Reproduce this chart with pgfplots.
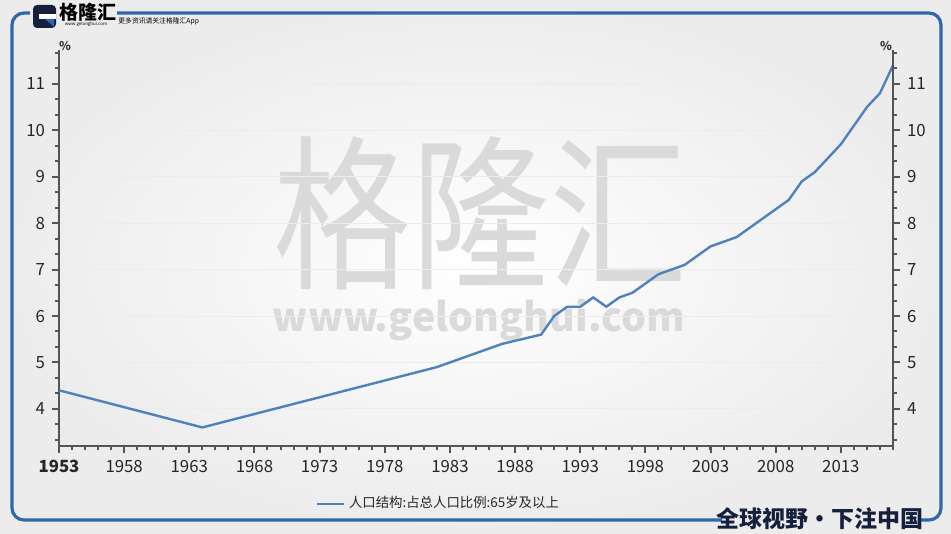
\documentclass[border=0pt]{standalone}
\usepackage{fontspec}
\setmainfont{Noto Sans CJK SC}
\usepackage{pgfplots}
\pgfplotsset{compat=1.18}
\definecolor{frameblue}{RGB}{46,104,170}
\definecolor{lineblue}{RGB}{79,129,189}
\definecolor{axisgray}{RGB}{85,85,85}
\definecolor{wm}{RGB}{218,218,218}
\definecolor{navy}{RGB}{22,32,60}

\pgfplotstableread{
year value
1953 4.4
1964 3.6
1982 4.9
1987 5.4
1990 5.6
1991 6.0
1992 6.2
1993 6.2
1994 6.4
1995 6.2
1996 6.4
1997 6.5
1998 6.7
1999 6.9
2000 7.0
2001 7.1
2002 7.3
2003 7.5
2004 7.6
2005 7.7
2006 7.9
2007 8.1
2008 8.3
2009 8.5
2010 8.9
2011 9.1
2012 9.4
2013 9.7
2014 10.1
2015 10.5
2016 10.8
2017 11.4
}\olddata

\begin{document}
\begin{tikzpicture}[x=0.5pt,y=-0.5pt]
% background and frame
\shade[inner color=white, outer color=gray!15] (0,0) rectangle (951,534);
\draw[frameblue, line width=1.6pt, rounded corners=6pt] (30,13) -- (12,13) -- (12,520) -- (722,520);
\draw[frameblue, line width=1.6pt, rounded corners=6pt] (918,520) -- (941,520) -- (941,13) -- (117,13);
% logo
\fill[navy, rounded corners=2pt] (33,5) rectangle (56,28);
\fill[white] (39,14) rectangle (56,19);
\fill[frameblue] (45,19) -- (54,19) -- (54,27) -- cycle;
\node[anchor=west, inner sep=0pt, font=\fontsize{9.5}{10}\selectfont\bfseries] at (59,12) {格隆汇};
\node[inner sep=0pt, font=\fontsize{2.2}{2.5}\selectfont] at (86,24) {www.gelonghui.com};
\node[anchor=west, inner sep=0pt, font=\fontsize{3.4}{4}\selectfont] at (118,21) {更多资讯请关注格隆汇App};
% watermark
\node[wm, inner sep=0pt] at (480,213) {\resizebox{207pt}{70pt}{格隆汇}};
\node[wm, inner sep=0pt, font=\bfseries] at (479,320) {\resizebox{206pt}{!}{www.gelonghui.com}};

\begin{axis}[
    at={(29.5pt,-223pt)}, anchor=south west,
    scale only axis, width=417pt, height=198pt,
    xmin=1953, xmax=2017, ymin=3.2, ymax=11.73,
    axis y line*=left, axis x line*=bottom,
    axis line style={axisgray, line width=1pt, -},
    tick style={axisgray, line width=1pt},
    tick align=outside,
    major tick length=3.5pt, minor tick length=2pt,
    xtick={1953,1958,...,2013},
    xticklabels={\textbf{1953},1958,1963,1968,1973,1978,1983,1988,1993,1998,2003,2008,2013},
    minor xtick={1953,...,2017},
    ytick={4,...,11},
    minor ytick={3.333,3.667,4.333,4.667,5.333,5.667,6.333,6.667,7.333,7.667,8.333,8.667,9.333,9.667,10.333,10.667,11.333,11.667},
    ymajorgrids, grid style={gray!15, line width=0.5pt},
    ticklabel style={font=\fontsize{8.4}{10}\selectfont, text=black!85},
    /pgf/number format/assume math mode=true,
    legend style={draw=none, fill=none, at={(0.3,-0.146)}, anchor=west,
        font=\fontsize{6.7}{8}\selectfont, text=black!85},
    legend image code/.code={\draw[#1] (0pt,0pt) -- (13.5pt,0pt);},
]
\addplot[color=lineblue, line width=1.2pt] table[x=year, y=value] {\olddata};
\addlegendentry{人口结构:占总人口比例:65岁及以上}
\end{axis}
\begin{axis}[
    at={(29.5pt,-223pt)}, anchor=south west,
    scale only axis, width=417pt, height=198pt,
    xmin=1953, xmax=2017, ymin=3.2, ymax=11.73,
    axis y line*=right, axis x line=none,
    axis line style={axisgray, line width=1pt, -},
    tick style={axisgray, line width=1pt},
    tick align=outside,
    major tick length=3.5pt, minor tick length=2pt,
    ytick={4,...,11},
    minor ytick={3.333,3.667,4.333,4.667,5.333,5.667,6.333,6.667,7.333,7.667,8.333,8.667,9.333,9.667,10.333,10.667,11.333,11.667},
    ticklabel style={font=\fontsize{8.4}{10}\selectfont, text=black!85},
    /pgf/number format/assume math mode=true,
]
\end{axis}
% percent signs and slogan
\node[font=\fontsize{6}{7}\selectfont\bfseries, text=black!80] at (65,46) {\%};
\node[font=\fontsize{6}{7}\selectfont\bfseries, text=black!80] at (886,46) {\%};
\node[navy, inner sep=0pt, font=\fontsize{11.5}{12}\selectfont\bfseries] at (820,519) {全球视野・下注中国};
\end{tikzpicture}
\end{document}
